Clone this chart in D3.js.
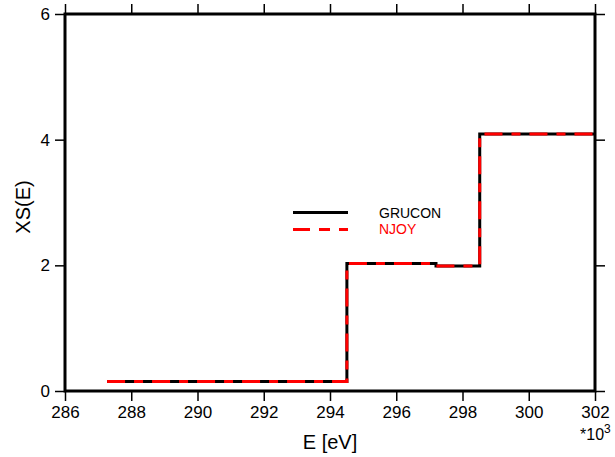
<!DOCTYPE html>
<html>
<head>
<meta charset="utf-8">
<script src="https://cdn.jsdelivr.net/npm/d3@7"></script>
<style>
  body { margin: 0; background: white; }
  text { font-family: "Liberation Sans", Arial, sans-serif; }
</style>
</head>
<body>
<div id="chart"></div>
<script>
// step edges in keV (x 10^3 eV) and the value on each step
const energies = [287.27, 294.51, 297.2, 298.52, 302];
const grucon = [0.15, 2.03, 1.99, 4.09];
const njoy = [0.15, 2.03, 1.99, 4.09];
const xTicks = [286, 288, 290, 292, 294, 296, 298, 300, 302];
const yTicks = [0, 2, 4, 6];
const seriesNames = ["GRUCON", "NJOY"];

const width = 615, height = 457;
const margin = {top: 14, right: 20, bottom: 66, left: 65};

const svg = d3.select("#chart")
    .append("svg")
    .attr("width", width)
    .attr("height", height);

const x = d3.scaleLinear()
    .domain([286, 302])
    .range([margin.left, width - margin.right]);

const y = d3.scaleLinear()
    .domain([0, 6])
    .range([height - margin.bottom, margin.top]);

// turn edges + values into step points
function stepData(vals) {
    const pts = [];
    vals.forEach((v, i) => {
        pts.push([energies[i], v]);
        pts.push([energies[i + 1], v]);
    });
    return pts;
}

const line = d3.line()
    .x(d => x(d[0]))
    .y(d => y(d[1]));

function styleAxis(g) {
    g.select(".domain").remove();
    g.selectAll(".tick line").attr("stroke", "#000").attr("stroke-width", 1.5);
    g.selectAll(".tick text")
        .attr("font-size", 17)
        .attr("fill", "#000")
        .attr("font-family", "Liberation Sans, Arial, sans-serif");
}

svg.append("g")
    .attr("transform", `translate(0, ${y(0)})`)
    .call(d3.axisBottom(x).tickValues(xTicks).tickSize(10).tickPadding(5).tickFormat(d3.format("d")))
    .call(styleAxis);
svg.append("g")
    .attr("transform", `translate(0, ${y(6)})`)
    .call(d3.axisTop(x).tickValues(xTicks).tickSize(10).tickFormat(""))
    .call(styleAxis);
svg.append("g")
    .attr("transform", `translate(${x(286)}, 0)`)
    .call(d3.axisLeft(y).tickValues(yTicks).tickSize(10).tickPadding(5).tickFormat(d3.format("d")))
    .call(styleAxis);
svg.append("g")
    .attr("transform", `translate(${x(302)}, 0)`)
    .call(d3.axisRight(y).tickValues(yTicks).tickSize(10).tickFormat(""))
    .call(styleAxis);

// frame
svg.append("rect")
    .attr("x", x(286))
    .attr("y", y(6))
    .attr("width", x(302) - x(286))
    .attr("height", y(0) - y(6))
    .attr("fill", "none")
    .attr("stroke", "#000")
    .attr("stroke-width", 3);

svg.append("path")
    .datum(stepData(grucon))
    .attr("d", line)
    .attr("fill", "none")
    .attr("stroke", "#000")
    .attr("stroke-width", 3);

svg.append("path")
    .datum(stepData(njoy))
    .attr("d", line)
    .attr("fill", "none")
    .attr("stroke", "#ff0000")
    .attr("stroke-width", 3)
    .attr("stroke-dasharray", "18,9,9,9");

// legend
const legend = svg.append("g");
legend.append("line")
    .attr("x1", 293).attr("x2", 348)
    .attr("y1", 212.5).attr("y2", 212.5)
    .attr("stroke", "#000").attr("stroke-width", 3);
legend.append("line")
    .attr("x1", 293).attr("x2", 348)
    .attr("y1", 229.5).attr("y2", 229.5)
    .attr("stroke", "#ff0000").attr("stroke-width", 3)
    .attr("stroke-dasharray", "17,9,11,9");
legend.append("text")
    .attr("x", 379).attr("y", 218)
    .attr("font-size", 14)
    .attr("fill", "#000")
    .text(seriesNames[0]);
legend.append("text")
    .attr("x", 379).attr("y", 234)
    .attr("font-size", 14)
    .attr("fill", "#ff0000")
    .text(seriesNames[1]);

// axis titles
svg.append("text")
    .attr("x", 330)
    .attr("y", 449)
    .attr("text-anchor", "middle")
    .attr("font-size", 20)
    .text("E [eV]");
svg.append("text")
    .attr("transform", "translate(30, 207) rotate(-90)")
    .attr("text-anchor", "middle")
    .attr("font-size", 20)
    .text("XS(E)");

const mult = svg.append("text")
    .attr("x", 580)
    .attr("y", 440)
    .attr("font-size", 16);
mult.append("tspan").text("*10");
mult.append("tspan").attr("dy", -7).attr("font-size", 12).text("3");
</script>
</body>
</html>
